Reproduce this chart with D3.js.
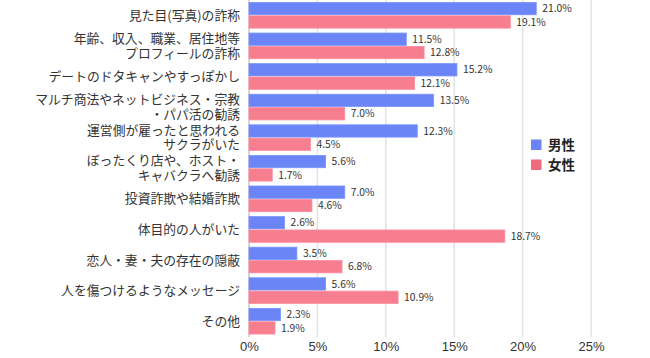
<!DOCTYPE html>
<html><head><meta charset="utf-8">
<script src="https://cdn.jsdelivr.net/npm/d3@7"></script>
<style>body{margin:0;background:#fff;}svg{display:block;font-family:"Noto Sans CJK JP","Noto Sans",sans-serif;}</style>
</head><body>
<svg id="c" width="650" height="358"></svg>
<script>
const categories = [
  ["見た目(写真)の詐称"],
  ["年齢、収入、職業、居住地等","プロフィールの詐称"],
  ["デートのドタキャンやすっぽかし"],
  ["マルチ商法やネットビジネス・宗教","・パパ活の勧誘"],
  ["運営側が雇ったと思われる","サクラがいた"],
  ["ぼったくり店や、ホスト・","キャバクラへ勧誘"],
  ["投資詐欺や結婚詐欺"],
  ["体目的の人がいた"],
  ["恋人・妻・夫の存在の隠蔽"],
  ["人を傷つけるようなメッセージ"],
  ["その他"]
];
const male   = [21.0, 11.5, 15.2, 13.5, 12.3, 5.6, 7.0, 2.6, 3.5, 5.6, 2.3];
const female = [19.1, 12.8, 12.1, 7.0, 4.5, 1.7, 4.6, 18.7, 6.8, 10.9, 1.9];
const seriesNames = ["男性", "女性"];
const ticks = [0, 5, 10, 15, 20, 25];

const colors = ["#6b85f6", "#f67e8e"];
const legendColors = ["#6b85f6", "#ef6b7d"];

const svg = d3.select("#c");
const x = d3.scaleLinear().domain([0, 25]).range([249, 591]);
const y = d3.scaleBand().domain(d3.range(categories.length)).range([0, 336.5]).paddingInner(0.16).paddingOuter(0.08);
const sub = d3.scaleBand().domain([0,1]).range([0, y.bandwidth()]).paddingInner(0.08);

// gridlines
svg.append("g").selectAll("line").data(ticks).join("line")
  .attr("x1", d => x(d)).attr("x2", d => x(d))
  .attr("y1", 0).attr("y2", 337)
  .attr("stroke", d => d === 0 ? "#c8c8c8" : "#e2e2e2").attr("stroke-width", 1.5);

// x axis labels
const xAxis = d3.axisBottom(x).tickValues(ticks).tickFormat(d => d + "%").tickSize(0).tickPadding(0);
const gx = svg.append("g").attr("transform", "translate(0,339)").call(xAxis);
gx.select(".domain").remove();
gx.selectAll("text").attr("font-size", 13).attr("fill", "#333").attr("dy", "0.9em");

const data = [male, female];
const g = svg.append("g");
data.forEach((vals, s) => {
  g.append("g").selectAll("rect").data(vals).join("rect")
    .attr("x", x(0)).attr("y", (d, i) => y(i) + sub(s))
    .attr("width", d => x(d) - x(0)).attr("height", sub.bandwidth())
    .attr("fill", colors[s]).attr("stroke", d3.color(colors[s]).brighter(0.3)).attr("stroke-width", 0.8);
  g.append("g").selectAll("text").data(vals).join("text")
    .attr("x", d => x(d) + 6).attr("y", (d, i) => y(i) + sub(s) + sub.bandwidth() / 2)
    .attr("dy", "0.35em").attr("font-size", 10.3).attr("fill", "#333")
    .text(d => d.toFixed(1) + "%");
});

// category labels
const cl = svg.append("g");
categories.forEach((lines, i) => {
  const cy = y(i) + y.bandwidth() / 2;
  const lh = 14.5;
  lines.forEach((ln, k) => {
    cl.append("text").attr("text-anchor", "end").attr("font-size", 12.8).attr("fill", "#333")
      .attr("x", 240).attr("y", cy + (k - (lines.length - 1) / 2) * lh).attr("dy", "0.35em").text(ln);
  });
});

// legend
const lg = svg.append("g");
seriesNames.forEach((n, i) => {
  lg.append("rect").attr("x", 531).attr("y", 139.5 + i * 20).attr("width", 10.5).attr("height", 10.5).attr("fill", legendColors[i]);
  lg.append("text").attr("x", 548).attr("y", 145 + i * 20).attr("dy", "0.35em").attr("font-size", 13.5).attr("font-weight", "bold").attr("fill", "#222").text(n);
});
</script>
</body></html>
